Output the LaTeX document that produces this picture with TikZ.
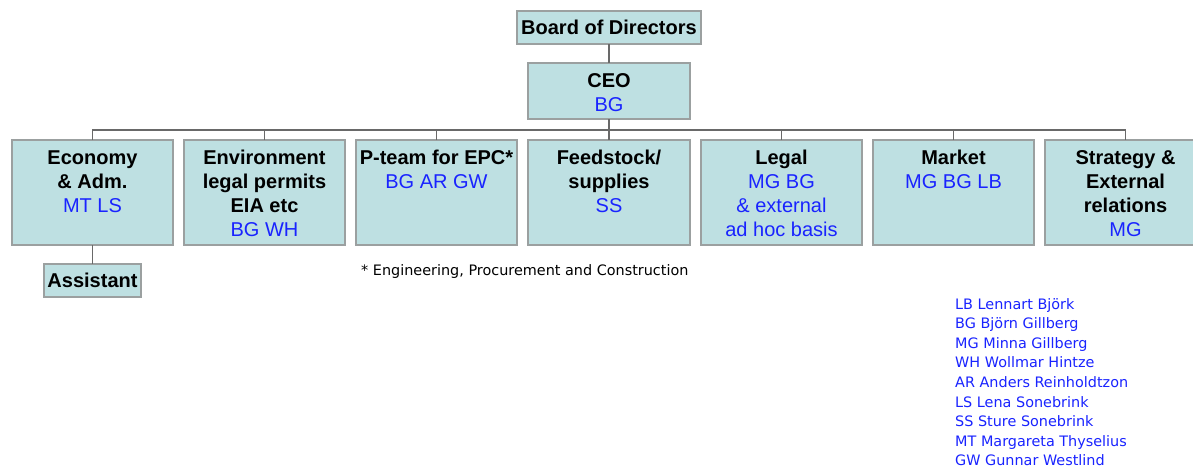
\documentclass[tikz,border=0pt]{standalone}
\usepackage{fontspec}
\setmainfont{Liberation Sans}
\newfontfamily\legendfont{DejaVu Sans}
\definecolor{boxfill}{RGB}{190,224,226}
\definecolor{boxline}{RGB}{155,160,160}
\definecolor{linkgray}{RGB}{105,105,105}
\definecolor{txtblue}{RGB}{25,35,255}
\newcommand{\pname}[1]{{\color{txtblue}\mdseries #1}}
\newcommand{\bxt}[3]{\parbox[c][#2pt][t]{#1pt}{\centering\fontsize{20}{24}\selectfont\bfseries\rule{0pt}{24.2pt}#3}}
\newcommand{\bxc}[3]{\parbox[c][#2pt][c]{#1pt}{\centering\fontsize{20}{24}\selectfont\bfseries #3}}
\tikzset{
  orgbox/.style={draw=boxline, line width=1.6pt, fill=boxfill, inner sep=0pt, outer sep=0pt, anchor=north west},
  link/.style={draw=linkgray, line width=1.3pt},
}
\begin{document}
\begin{tikzpicture}[x=1pt,y=-1pt]
\useasboundingbox (0,0) rectangle (1193,472);
\node[orgbox] (board) at (517,11) {\bxc{184}{33}{Board of Directors}};
\node[orgbox] (ceo) at (528,63) {\bxt{162}{56}{CEO\\\pname{BG}}};
\node[orgbox] (eco) at (12,140) {\bxt{161}{105}{Economy\\\& Adm.\\\pname{MT LS}}};
\node[orgbox] (env) at (184,140) {\bxt{161}{105}{Environment\\legal permits\\EIA etc\\\pname{BG WH}}};
\node[orgbox] (pteam) at (356,140) {\bxt{161}{105}{P-team for EPC*\\\pname{BG AR GW}}};
\node[orgbox] (feed) at (528,140) {\bxt{162}{105}{Feedstock/\\supplies\\\pname{SS}}};
\node[orgbox] (legal) at (701,140) {\bxt{161}{105}{Legal\\\pname{MG BG}\\\pname{\& external}\\\pname{ad hoc basis}}};
\node[orgbox] (market) at (873,140) {\bxt{161}{105}{Market\\\pname{MG BG LB}}};
\node[orgbox] (strat) at (1045,140) {\bxt{161}{105}{Strategy \&\\External\\relations\\\pname{MG}}};
\node[orgbox] (assist) at (44,264) {\bxc{97}{33}{Assistant}};
\coordinate (bus) at (0,130);
\draw[link] (board.south) -- (ceo.north);
\draw[link] (ceo.south) -- (ceo.south |- bus);
\draw[link] (eco.north) -- (eco.north |- bus) -- (strat.north |- bus) -- (strat.north);
\foreach \n in {env,pteam,feed,legal,market}{
  \draw[link] (\n.north) -- (\n.north |- bus);
}
\draw[link] (eco.south) -- (assist.north);
\node[anchor=west, inner sep=0pt, font=\legendfont\fontsize{14.4}{20}\selectfont] (foot) at (361,272) {* Engineering, Procurement and Construction};
\node[anchor=north west, inner sep=0pt, align=left, text=txtblue, font=\legendfont\fontsize{14.4}{19.6}\selectfont] (legend) at (955,298) {LB Lennart Björk\\BG Björn Gillberg\\MG Minna Gillberg\\WH Wollmar Hintze\\AR Anders Reinholdtzon\\LS Lena Sonebrink\\SS Sture Sonebrink\\MT Margareta Thyselius\\GW Gunnar Westlind};
\end{tikzpicture}
\end{document}
